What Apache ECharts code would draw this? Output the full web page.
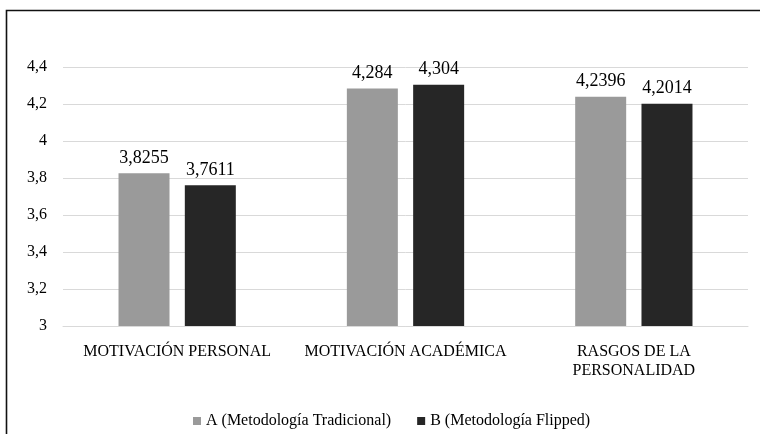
<!DOCTYPE html>
<html>
<head>
<meta charset="utf-8">
<script src="https://cdn.jsdelivr.net/npm/echarts@6/dist/echarts.min.js"></script>
<style>html,body{margin:0;padding:0;background:#fff}#c{width:760px;height:434px}</style>
</head>
<body>
<div id="c"></div>
<script>
const categories = ['MOTIVACIÓN PERSONAL', 'MOTIVACIÓN ACADÉMICA', 'RASGOS DE LA\nPERSONALIDAD'];
const seriesNames = ['A (Metodología Tradicional)', 'B (Metodología Flipped)'];
const valuesA = [3.8255, 4.284, 4.2396];
const valuesB = [3.7611, 4.304, 4.2014];
const yMin = 3, yMax = 4.4, yStep = 0.2;

const font = 'Liberation Serif';
const fmtComma = v => String(v).replace('.', ',');
const chart = echarts.init(document.getElementById('c'));
chart.setOption({
  animation: false,
  backgroundColor: '#fff',
  graphic: [{
    type: 'rect', silent: true,
    shape: {x: 6.5, y: 10.5, width: 800, height: 500},
    style: {fill: 'none', stroke: '#111', lineWidth: 1.6}
  }],
  grid: {left: 63, right: 12, top: 67, bottom: 108},
  legend: {
    top: 408, left: 188,
    itemWidth: 8, itemHeight: 8, itemGap: 26,
    icon: 'rect',
    textStyle: {fontFamily: font, fontSize: 16, color: '#000'},
    data: seriesNames
  },
  xAxis: {
    type: 'category', data: categories,
    axisLine: {show: true, lineStyle: {color: '#d9d9d9'}},
    axisTick: {show: false},
    axisLabel: {fontFamily: font, fontSize: 16, color: '#000', margin: 16, lineHeight: 19,
      interval: 0, hideOverlap: false}
  },
  yAxis: {
    type: 'value', min: yMin, max: yMax, interval: yStep,
    axisLine: {show: false}, axisTick: {show: false},
    splitLine: {lineStyle: {color: '#d9d9d9'}},
    axisLabel: {
      fontFamily: font, fontSize: 16, color: '#000', margin: 16,
      formatter: v => fmtComma(+v.toFixed(1))
    }
  },
  series: [
    {
      name: seriesNames[0], type: 'bar', data: valuesA,
      barWidth: 51, barGap: '30%',
      itemStyle: {color: '#9a9a9a'},
      label: {show: true, position: 'top', distance: 6, fontFamily: font, fontSize: 18, color: '#000',
        formatter: p => fmtComma(p.value)}
    },
    {
      name: seriesNames[1], type: 'bar', data: valuesB,
      barWidth: 51,
      itemStyle: {color: '#262626'},
      label: {show: true, position: 'top', distance: 6, fontFamily: font, fontSize: 18, color: '#000',
        formatter: p => fmtComma(p.value)}
    }
  ]
});
</script>
</body>
</html>
